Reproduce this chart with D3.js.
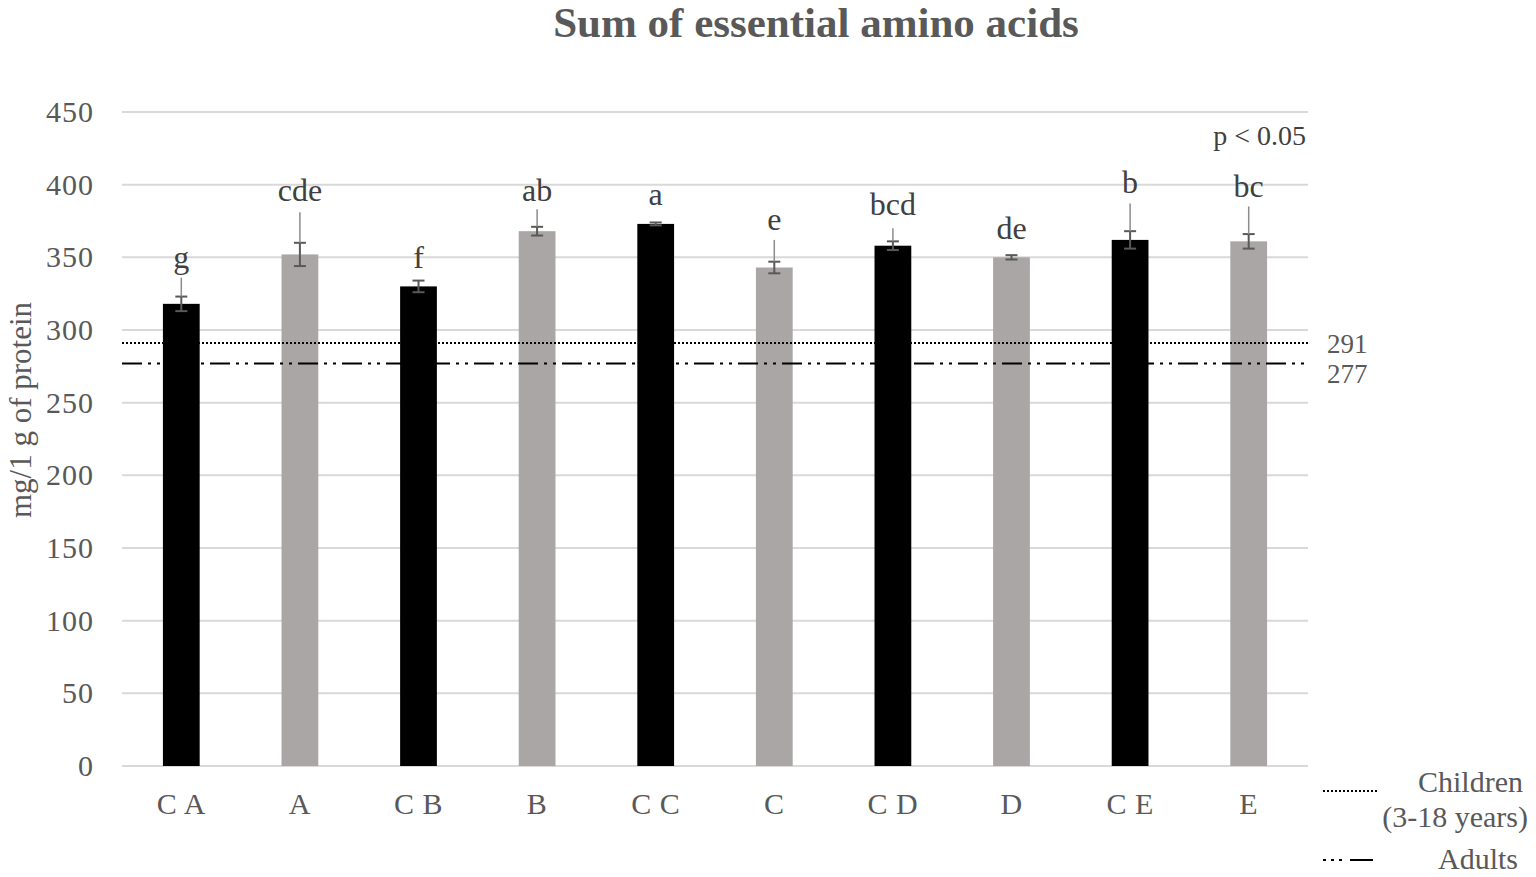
<!DOCTYPE html>
<html>
<head>
<meta charset="utf-8">
<script src="https://cdn.jsdelivr.net/npm/d3@7"></script>
<style>
  body { margin: 0; background: #fff; }
  text { font-family: "Liberation Serif", "Times New Roman", serif; }
</style>
</head>
<body>
<svg id="chart" width="1536" height="877"></svg>
<script>
// data
var categories = ["C A", "A", "C B", "B", "C C", "C", "C D", "D", "C E", "E"];
var values = [318, 352, 330, 368, 373, 343, 358, 350, 362, 361];
var errors = [5, 8, 4, 3, 1, 4, 3, 1.5, 6, 5];
var letters = ["g", "cde", "f", "ab", "a", "e", "bcd", "de", "b", "bc"];
var isControl = [true, false, true, false, true, false, true, false, true, false];
var yTicks = [0, 50, 100, 150, 200, 250, 300, 350, 400, 450];
var children = 291, adults = 277;

// where the letters were dragged to (in y units), and top of their leader line
var letterAt = [350, 396, 350, 396, 393, 376, 386, 370, 401, 398.5];
var leaderTop = [336, 381, null, 383, null, 362, 370, null, 387, 385];

var svg = d3.select("svg#chart"),
    width = +svg.attr("width"),
    height = +svg.attr("height");

var margin = {left: 122, right: 228, top: 112, bottom: 111};

var x = d3.scaleBand()
    .domain(categories)
    .range([margin.left, width - margin.right])
    .paddingInner(0.69)
    .paddingOuter(0.345);

var y = d3.scaleLinear()
    .domain([0, 450])
    .range([height - margin.bottom, margin.top]);

var grey = "#595959";

// gridlines
svg.append("g")
  .selectAll("line")
  .data(yTicks)
  .enter().append("line")
    .attr("x1", margin.left)
    .attr("x2", width - margin.right)
    .attr("y1", function(d) { return y(d); })
    .attr("y2", function(d) { return y(d); })
    .attr("stroke", "#d9d9d9")
    .attr("stroke-width", 2);

// y axis labels
var yAxis = svg.append("g")
    .attr("transform", "translate(" + (margin.left - 28) + ",0)")
    .call(d3.axisLeft(y).tickValues(yTicks).tickSize(0).tickPadding(0));
yAxis.select(".domain").remove();
yAxis.selectAll("text")
    .attr("font-family", "Liberation Serif")
    .attr("font-size", 30)
    .attr("letter-spacing", 1)
    .attr("fill", grey);

// x axis labels
var xAxis = svg.append("g")
    .attr("transform", "translate(0," + y(0) + ")")
    .call(d3.axisBottom(x).tickSize(0).tickPadding(0));
xAxis.select(".domain").remove();
xAxis.selectAll("text")
    .attr("y", 48)
    .attr("dy", 0)
    .attr("font-family", "Liberation Serif")
    .attr("font-size", 30)
    .attr("letter-spacing", 0.5)
    .attr("fill", grey);

// bars
svg.append("g")
  .selectAll("rect")
  .data(categories)
  .enter().append("rect")
    .attr("x", function(d) { return x(d); })
    .attr("width", x.bandwidth())
    .attr("y", function(d, i) { return y(values[i]); })
    .attr("height", function(d, i) { return y(0) - y(values[i]); })
    .attr("fill", function(d, i) { return isControl[i] ? "#000" : "#aaa6a5"; });

// reference lines
svg.append("line")
    .attr("x1", margin.left).attr("x2", width - margin.right)
    .attr("y1", y(children)).attr("y2", y(children))
    .attr("stroke", "#000").attr("stroke-width", 2)
    .attr("stroke-dasharray", "2,2");
svg.append("line")
    .attr("x1", margin.left).attr("x2", width - margin.right)
    .attr("y1", y(adults)).attr("y2", y(adults))
    .attr("stroke", "#000").attr("stroke-width", 2)
    .attr("stroke-dasharray", "20,6,3,6,3,6");

svg.append("text")
    .attr("x", 1327).attr("y", 353)
    .attr("font-size", 27).attr("fill", grey)
    .text(children);
svg.append("text")
    .attr("x", 1327).attr("y", 383)
    .attr("font-size", 27).attr("fill", grey)
    .text(adults);

// error bars
var cx = function(i) { return x(categories[i]) + x.bandwidth() / 2; };
var err = svg.append("g").attr("stroke", grey).attr("stroke-width", 2);
categories.forEach(function(c, i) {
  var hi = y(values[i] + errors[i]), lo = y(values[i] - errors[i]);
  err.append("line").attr("x1", cx(i)).attr("x2", cx(i)).attr("y1", hi).attr("y2", lo);
  err.append("line").attr("x1", cx(i) - 6).attr("x2", cx(i) + 6).attr("y1", hi).attr("y2", hi);
  err.append("line").attr("x1", cx(i) - 6).attr("x2", cx(i) + 6).attr("y1", lo).attr("y2", lo);
});

// leader lines + letters
categories.forEach(function(c, i) {
  if (leaderTop[i] !== null) {
    svg.append("line")
        .attr("x1", cx(i)).attr("x2", cx(i))
        .attr("y1", y(leaderTop[i]))
        .attr("y2", y(values[i] + errors[i]))
        .attr("stroke", "#8c8c8c").attr("stroke-width", 1.5);
  }
  svg.append("text")
      .attr("x", cx(i))
      .attr("y", y(letterAt[i]))
      .attr("dy", "0.32em")
      .attr("text-anchor", "middle")
      .attr("font-size", 32)
      .attr("fill", "#404040")
      .text(letters[i]);
});

// title
svg.append("text")
    .attr("x", 816).attr("y", 37)
    .attr("text-anchor", "middle")
    .attr("font-size", 43).attr("font-weight", "bold")
    .attr("fill", grey)
    .text("Sum of essential amino acids");

// y title
svg.append("text")
    .attr("transform", "translate(31," + 410 + ") rotate(-90)")
    .attr("text-anchor", "middle")
    .attr("font-size", 31).attr("fill", grey)
    .text("mg/1 g of protein");

svg.append("text")
    .attr("x", 1306).attr("y", 145)
    .attr("text-anchor", "end")
    .attr("font-size", 28).attr("fill", "#404040")
    .text("p < 0.05");

// legend
var legend = svg.append("g");
legend.append("line")
    .attr("x1", 1323).attr("x2", 1378).attr("y1", 791).attr("y2", 791)
    .attr("stroke", "#000").attr("stroke-width", 2).attr("stroke-dasharray", "2,2");
legend.append("line")
    .attr("x1", 1323).attr("x2", 1378).attr("y1", 860).attr("y2", 860)
    .attr("stroke", "#000").attr("stroke-width", 2).attr("stroke-dasharray", "3,5,3,5,3,8,23,100");
legend.append("text")
    .attr("x", 1523).attr("y", 792)
    .attr("text-anchor", "end").attr("font-size", 30).attr("fill", grey)
    .text("Children");
legend.append("text")
    .attr("x", 1528).attr("y", 827)
    .attr("text-anchor", "end").attr("font-size", 30).attr("fill", grey)
    .text("(3-18 years)");
legend.append("text")
    .attr("x", 1518).attr("y", 869)
    .attr("text-anchor", "end").attr("font-size", 30).attr("fill", grey)
    .text("Adults");
</script>
</body>
</html>
